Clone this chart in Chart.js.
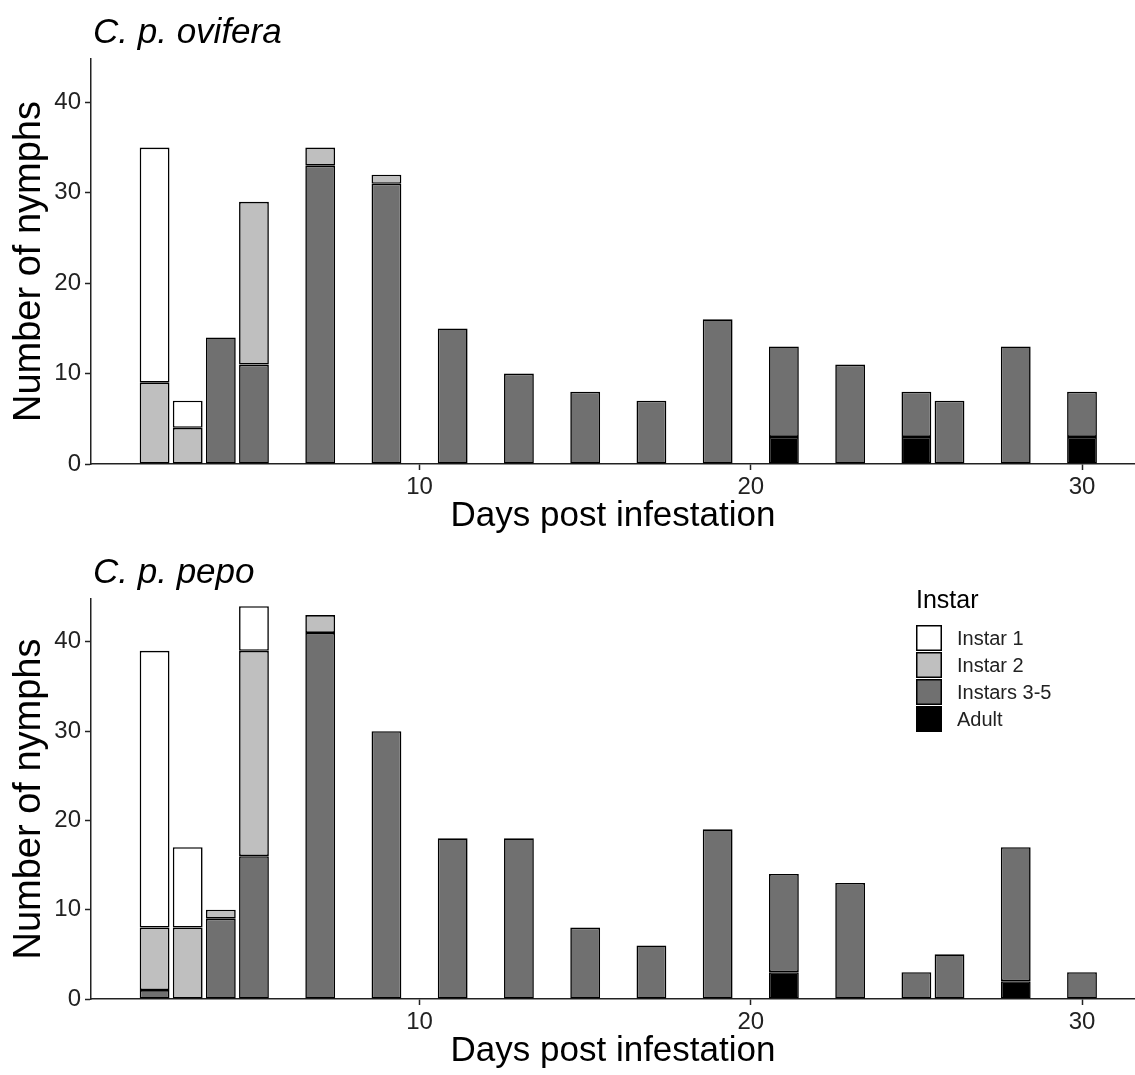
<!DOCTYPE html>
<html>
<head>
<meta charset="utf-8">
<script src="https://cdn.jsdelivr.net/npm/chart.js@4/dist/chart.umd.min.js"></script>
<style>
  body { margin: 0; background: #fff; }
  .panel { position: absolute; left: 0; width: 1135px; }
</style>
</head>
<body>
<div class="panel" style="top:0;height:540px"><canvas id="chartOvifera" width="1135" height="540"></canvas></div>
<div class="panel" style="top:540px;height:535px"><canvas id="chartPepo" width="1135" height="535"></canvas></div>
<script>
// sampling days (x axis)
var days = [2, 3, 4, 5, 7, 9, 11, 13, 15, 17, 19, 21, 23, 25, 26, 28, 30];

// C. p. ovifera counts per day
var oviferaInstar1  = [26, 3, 0, 0, 0, 0, 0, 0, 0, 0, 0, 0, 0, 0, 0, 0, 0];
var oviferaInstar2  = [9, 4, 0, 18, 2, 1, 0, 0, 0, 0, 0, 0, 0, 0, 0, 0, 0];
var oviferaInstar35 = [0, 0, 14, 11, 33, 31, 15, 10, 8, 7, 16, 10, 11, 5, 7, 13, 5];
var oviferaAdult    = [0, 0, 0, 0, 0, 0, 0, 0, 0, 0, 0, 3, 0, 3, 0, 0, 3];

// C. p. pepo counts per day
var pepoInstar1  = [31, 9, 0, 5, 0, 0, 0, 0, 0, 0, 0, 0, 0, 0, 0, 0, 0];
var pepoInstar2  = [7, 8, 1, 23, 2, 0, 0, 0, 0, 0, 0, 0, 0, 0, 0, 0, 0];
var pepoInstar35 = [1, 0, 9, 16, 41, 30, 18, 18, 8, 6, 19, 11, 13, 3, 5, 15, 3];
var pepoAdult    = [0, 0, 0, 0, 0, 0, 0, 0, 0, 0, 0, 3, 0, 0, 0, 2, 0];

var stageLabels = ["Instar 1", "Instar 2", "Instars 3-5", "Adult"];
var stageColors = ["#ffffff", "#bfbfbf", "#707070", "#000000"];

var xTicks = [10, 20, 30];
var yTicks = [0, 10, 20, 30, 40];

Chart.defaults.font.family = "'Liberation Sans', Arial, sans-serif";
Chart.defaults.color = "#222";

function toPoints(values) {
  return days.map(function (d, i) {
    return { x: d, y: values[i] ? values[i] : null };
  });
}

// panel title + legend drawn on the canvas
var panelDecor = {
  id: 'panelDecor',
  afterDraw: function (chart, args, opts) {
    var ctx = chart.ctx;
    var area = chart.chartArea;
    ctx.save();
    ctx.fillStyle = '#000';
    ctx.textBaseline = 'alphabetic';
    ctx.textAlign = 'left';
    ctx.font = "italic 35px 'Liberation Sans', Arial, sans-serif";
    ctx.fillText(opts.title, area.left + 2, area.top - 16);

    if (opts.legend) {
      var x0 = area.right - 219;
      ctx.font = "25px 'Liberation Sans', Arial, sans-serif";
      ctx.fillText("Instar", x0, area.top + 9);
      ctx.font = "20px 'Liberation Sans', Arial, sans-serif";
      ctx.textBaseline = 'middle';
      for (var i = 0; i < stageLabels.length; i++) {
        var y = area.top + 26 + i * 27;
        ctx.fillStyle = stageColors[i];
        ctx.fillRect(x0, y, 26, 26);
        ctx.strokeStyle = '#000';
        ctx.lineWidth = 1.5;
        ctx.strokeRect(x0 + 0.75, y + 0.75, 24.5, 24.5);
        ctx.fillStyle = '#222';
        ctx.fillText(stageLabels[i], x0 + 41, y + 14);
      }
    }
    ctx.restore();
  }
};

function makePanel(canvasId, title, i1, i2, i35, ad, showLegend) {
  // stacked bottom-up: Adult, Instars 3-5, Instar 2, Instar 1
  var series = [ad, i35, i2, i1];
  var datasets = series.map(function (vals, k) {
    var idx = 3 - k;
    return {
      label: stageLabels[idx],
      data: toPoints(vals),
      backgroundColor: stageColors[idx],
      borderColor: '#000',
      borderWidth: 1.6,
      borderSkipped: false,
      categoryPercentage: 0.9,
      barPercentage: 1.0
    };
  });

  return new Chart(document.getElementById(canvasId), {
    type: 'bar',
    data: { datasets: datasets },
    plugins: [panelDecor],
    options: {
      responsive: false,
      animation: false,
      layout: { padding: { top: 59, left: 0, right: 0, bottom: 0 } },
      scales: {
        x: {
          type: 'linear',
          stacked: true,
          offset: false,
          min: 0.08,
          max: 31.6,
          afterBuildTicks: function (scale) {
            scale.ticks = xTicks.map(function (v) { return { value: v }; });
          },
          afterFit: function (scale) { scale.height = 76; },
          grid: { offset: false, drawOnChartArea: false, drawTicks: true, tickLength: 6, tickColor: '#222', tickWidth: 1.5 },
          border: { display: true, color: '#222', width: 1.5 },
          ticks: { font: { size: 24 }, padding: 3, color: '#222', maxRotation: 0 },
          title: { display: true, text: 'Days post infestation', color: '#000', font: { size: 35 }, padding: { top: 0, bottom: 3 } }
        },
        y: {
          stacked: true,
          min: 0,
          max: 44.8,
          afterBuildTicks: function (scale) {
            scale.ticks = yTicks.map(function (v) { return { value: v }; });
          },
          afterFit: function (scale) { scale.width = 91; },
          grid: { drawOnChartArea: false, drawTicks: true, tickLength: 6, tickColor: '#222', tickWidth: 1.5 },
          border: { display: true, color: '#222', width: 1.5 },
          ticks: { font: { size: 24 }, padding: 4, color: '#222' },
          title: { display: true, text: 'Number of nymphs', color: '#000', font: { size: 38 }, padding: { top: 7, bottom: 0 } }
        }
      },
      plugins: {
        legend: { display: false },
        tooltip: { enabled: false },
        panelDecor: { title: title, legend: showLegend }
      }
    }
  });
}

makePanel('chartOvifera', 'C. p. ovifera', oviferaInstar1, oviferaInstar2, oviferaInstar35, oviferaAdult, false);
makePanel('chartPepo', 'C. p. pepo', pepoInstar1, pepoInstar2, pepoInstar35, pepoAdult, true);
</script>
</body>
</html>
